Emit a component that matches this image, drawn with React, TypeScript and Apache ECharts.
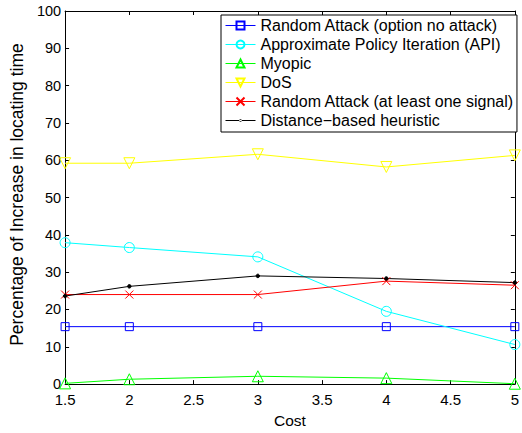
import React, { useEffect, useRef } from "react";
import * as echarts from "echarts";

const costs = [1.5, 2, 3, 4, 5];
const randomNoAttack = [15.4, 15.4, 15.4, 15.4, 15.4];
const api = [37.9, 36.6, 34.1, 19.5, 10.6];
const myopic = [0.2, 1.3, 2.1, 1.6, 0.1];
const dos = [59.2, 59.2, 61.6, 58.2, 61.3];
const randomOneSignal = [24.0, 24.0, 24.0, 27.6, 26.5];
const distance = [23.6, 26.2, 29.0, 28.3, 27.2];

const seriesNames = [
  "Random Attack (option no attack)",
  "Approximate Policy Iteration (API)",
  "Myopic",
  "DoS",
  "Random Attack (at least one signal)",
  "Distance\u2212based heuristic",
];

const FONT = "'Liberation Sans', Arial, Helvetica, sans-serif";

export default function App() {
  const ref = useRef<HTMLDivElement>(null);
  useEffect(() => {
    if (!ref.current) return;
    const chart = echarts.init(ref.current, undefined, { renderer: "svg" });
    const mk = (
      name: string,
      vals: number[],
      color: string,
      symbol: string,
      size: number,
      filled = false
    ) => ({
      name,
      type: "line",
      data: costs.map((c, i) => [c, vals[i]]),
      symbol,
      symbolSize: size,
      showSymbol: true,
      color,
      lineStyle: { color, width: 1 },
      itemStyle: {
        color: filled ? color : "rgba(255,255,255,0)",
        borderColor: color,
        borderWidth: 1,
      },
      emphasis: { disabled: true },
      z: 3,
    });
    const axisCommon = {
      axisLine: { show: true, onZero: false, lineStyle: { color: "#000", width: 1 } },
      axisTick: { show: true, inside: true, length: 4, lineStyle: { color: "#000" } },
      splitLine: { show: false },
    };
    const legendData = seriesNames.map((n, i) =>
      i === 5
        ? {
            name: n,
            icon: "path://M0,4.5L30,4.5L30,5.5L0,5.5Z M13.7,5A1.3,1.3 0 1,0 16.3,5A1.3,1.3 0 1,0 13.7,5Z",
            itemStyle: { borderWidth: 0, color: "#000" },
          }
        : { name: n }
    );
    chart.setOption({
      animation: false,
      grid: { left: 61, top: 11, right: 3, bottom: 41, containLabel: false },
      textStyle: { fontFamily: FONT },
      xAxis: [
        {
          type: "value",
          min: 1.5,
          max: 5,
          interval: 0.5,
          position: "bottom",
          name: "Cost",
          nameLocation: "middle",
          nameGap: 22,
          nameTextStyle: { fontSize: 15.5, color: "#000", fontFamily: FONT },
          axisLabel: { fontSize: 15, color: "#000", margin: 8, fontFamily: FONT },
          ...axisCommon,
        },
        {
          type: "value",
          min: 1.5,
          max: 5,
          interval: 0.5,
          position: "top",
          axisLabel: { show: false },
          ...axisCommon,
        },
      ],
      yAxis: [
        {
          type: "value",
          min: 0,
          max: 100,
          interval: 10,
          position: "left",
          name: "Percentage of Increase in locating time",
          nameLocation: "middle",
          nameGap: 34,
          nameTextStyle: { fontSize: 17.5, color: "#000", fontFamily: FONT, padding: [0, 0, 0, 6] },
          axisLabel: { fontSize: 14.5, color: "#000", margin: 4, fontFamily: FONT },
          ...axisCommon,
        },
        {
          type: "value",
          min: 0,
          max: 100,
          interval: 10,
          position: "right",
          axisLabel: { show: false },
          ...axisCommon,
        },
      ],
      legend: {
        orient: "vertical",
        left: 221,
        top: 15,
        width: 292,
        backgroundColor: "#fff",
        borderColor: "#000",
        borderWidth: 1,
        padding: [1, 3, 2, 4],
        itemWidth: 30,
        itemHeight: 10,
        itemGap: 0,
        selectedMode: false,
        lineStyle: { width: 1 },
        textStyle: { fontSize: 16, lineHeight: 19, color: "#000", fontFamily: FONT },
        data: legendData,
      },
      series: [
        mk(seriesNames[0], randomNoAttack, "#0000ff", "rect", 8),
        mk(seriesNames[1], api, "#00ffff", "circle", 10),
        mk(seriesNames[2], myopic, "#00ff00", "path://M5,0L10,9L0,9Z", 11),
        mk(seriesNames[3], dos, "#ffff00", "path://M0,0L10,0L5,9Z", 11),
        mk(seriesNames[4], randomOneSignal, "#ff0000", "path://M0,0L10,10M0,10L10,0", 8),
        mk(seriesNames[5], distance, "#000000", "circle", 3.5, true),
      ],
    });
    return () => chart.dispose();
  }, []);
  return <div ref={ref} style={{ width: 522, height: 433, position: "absolute", left: 0, top: 0 }} />;
}
